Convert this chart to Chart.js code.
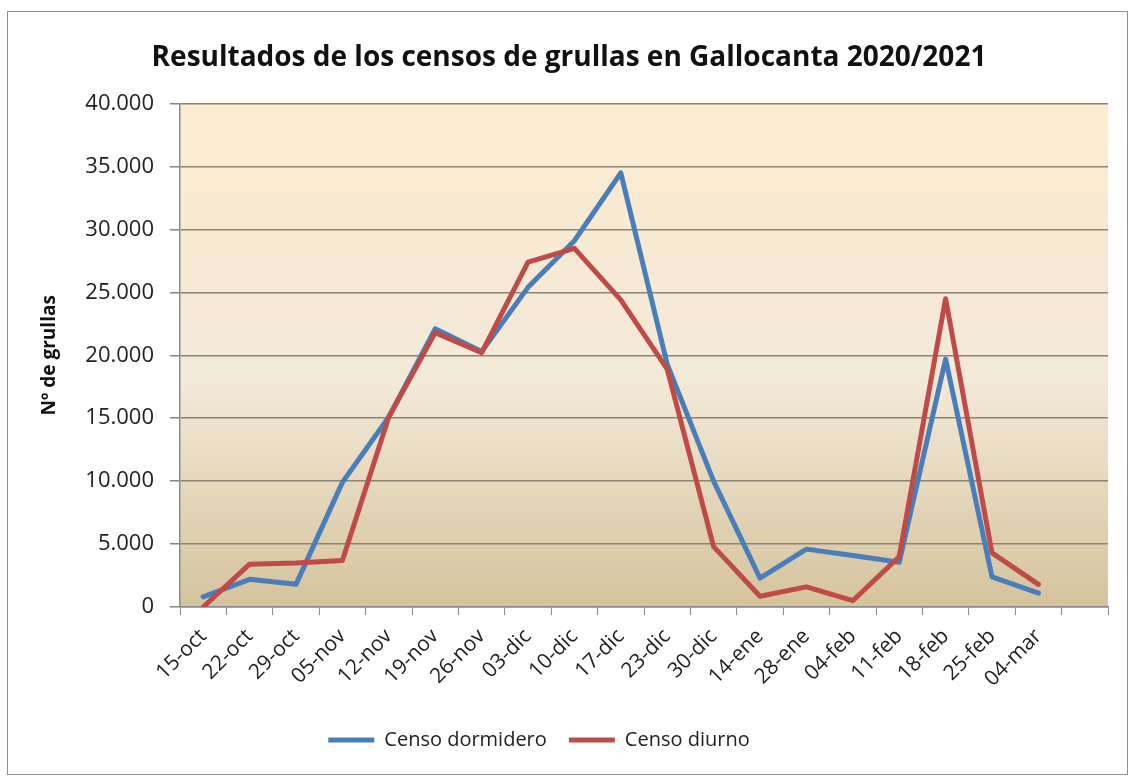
<!DOCTYPE html>
<html>
<head>
<meta charset="utf-8">
<script src="https://cdn.jsdelivr.net/npm/chart.js@4.4.0/dist/chart.umd.min.js"></script>
<style>
  html, body { margin: 0; padding: 0; background: #fff; }
  #wrap { position: relative; width: 1134px; height: 778px; }
  #frame { position: absolute; left: 7px; top: 11px; width: 1121px; height: 764px;
           border: 1px solid #8f8f8f; box-sizing: border-box; pointer-events: none; }
</style>
</head>
<body>
<div id="wrap">
  <canvas id="grafico" width="1134" height="778"></canvas>
  <div id="frame"></div>
</div>
<script>
// fechas de censo (la última categoría queda vacía, como en el original)
const fechas = ['15-oct','22-oct','29-oct','05-nov','12-nov','19-nov','26-nov','03-dic','10-dic',
  '17-dic','23-dic','30-dic','14-ene','28-ene','04-feb','11-feb','18-feb','25-feb','04-mar',''];
const censoDormidero = [800, 2200, 1800, 9900, 15100, 22100, 20300, 25400, 29100, 34500,
  19300, 10000, 2300, 4600, 4100, 3550, 19700, 2400, 1100];
const censoDiurno = [0, 3400, 3500, 3700, 15100, 21800, 20200, 27400, 28500, 24400,
  18900, 4800, 850, 1600, 500, 4000, 24500, 4300, 1800];

const FONT = 'Open Sans';

function miles(v) {
  return String(v).replace(/\B(?=(\d{3})+(?!\d))/g, '.');
}

// fondo degradado del área de trazado
const fondoPlot = {
  id: 'fondoPlot',
  beforeDraw(chart) {
    const { ctx, chartArea: a } = chart;
    const g = ctx.createLinearGradient(0, a.top, 0, a.bottom);
    g.addColorStop(0, '#fcebcf');
    g.addColorStop(0.55, '#f3e9d8');
    g.addColorStop(1, '#d5c39d');
    ctx.save();
    ctx.fillStyle = g;
    ctx.fillRect(a.left, a.top, a.right - a.left, a.bottom - a.top);
    ctx.restore();
  }
};

// la leyenda del original está algo desplazada a la izquierda
const moverLeyenda = {
  id: 'moverLeyenda',
  afterLayout(chart) {
    chart.legend.left -= 30;
    chart.legend.right -= 30;
  }
};

new Chart(document.getElementById('grafico'), {
  type: 'line',
  data: {
    labels: fechas,
    datasets: [
      {
        label: 'Censo dormidero',
        data: censoDormidero,
        borderColor: '#4a7ebb',
        backgroundColor: '#4a7ebb',
        pointBorderColor: '#4a7ebb',
        pointBorderWidth: 5,
        order: 1
      },
      {
        label: 'Censo diurno',
        data: censoDiurno,
        borderColor: '#be4b48',
        backgroundColor: '#be4b48',
        pointBorderColor: '#be4b48',
        pointBorderWidth: 5,
        order: 0
      }
    ]
  },
  options: {
    responsive: false,
    animation: false,
    devicePixelRatio: 1,
    elements: {
      line: { borderWidth: 5, tension: 0, borderJoinStyle: 'round', borderCapStyle: 'round' },
      point: { radius: 0, hoverRadius: 0, pointStyle: 'line' }
    },
    layout: { padding: { left: 30, right: 26, top: 0, bottom: 18 } },
    plugins: {
      title: {
        display: true,
        text: 'Resultados de los censos de grullas en Gallocanta 2020/2021',
        color: '#111',
        font: { family: FONT, size: 28, weight: 'bold' },
        padding: { top: 41, bottom: 29 }
      },
      legend: {
        position: 'bottom',
        labels: {
          usePointStyle: true,
          pointStyleWidth: 46,
          color: '#222',
          font: { family: FONT, size: 20 },
          padding: 22,
          sort: (a, b) => a.datasetIndex - b.datasetIndex
        }
      },
      tooltip: { enabled: false }
    },
    scales: {
      x: {
        offset: true,
        grid: { offset: true, drawOnChartArea: false, drawTicks: true, tickLength: 8, color: '#8b8b8b' },
        border: { display: true, color: '#8b8b8b', width: 1.5 },
        ticks: {
          autoSkip: false, maxRotation: 45, minRotation: 45, padding: 9,
          color: '#222', font: { family: FONT, size: 21 }
        },
        afterFit: s => { s.height = 101; }
      },
      y: {
        min: 0, max: 40000,
        ticks: {
          stepSize: 5000, padding: 16, color: '#222',
          font: { family: FONT, size: 22 },
          callback: v => miles(v)
        },
        grid: { color: '#8b8374', lineWidth: 1.5, tickLength: 10 },
        border: { display: true, color: '#8b8b8b', width: 1.5 },
        title: {
          display: true, text: 'Nº de grullas', color: '#111',
          font: { family: FONT, size: 19, weight: 'bold' },
          padding: { top: 8, bottom: 0 }
        },
        afterFit: s => { s.width = 150; }
      }
    }
  },
  plugins: [fondoPlot, moverLeyenda]
});
</script>
</body>
</html>
